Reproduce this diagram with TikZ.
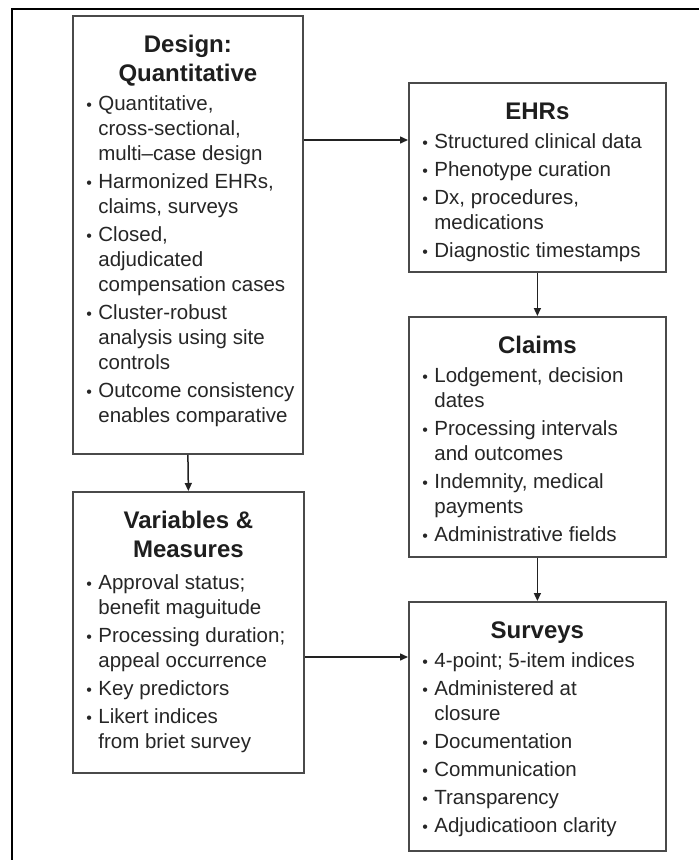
\documentclass[tikz,border=0pt]{standalone}
\usepackage{fontspec}
\setmainfont{Liberation Sans}
\usetikzlibrary{arrows.meta}

\definecolor{ink}{HTML}{262626}
\definecolor{titleink}{HTML}{1E1E1E}
\definecolor{boxline}{HTML}{4A4A4A}
\definecolor{wire}{HTML}{222222}

% small bullet in front of each entry
\newcommand{\bul}{\makebox[12pt][l]{\raisebox{0.6pt}{\fontsize{16}{16}\selectfont •}}}
% one bulleted entry; lines inside are separated by \\
\newcommand{\entry}[1]{\par\hangindent=12pt\hangafter=1\noindent\bul#1}
% panel body: [extra gap]{width}{height}{title}{entries}
\newcommand{\panel}[5][1pt]{%
  \parbox[c][#3][t]{#2}{%
    \vspace*{17pt}%
    {\centering\color{titleink}\fontsize{24}{29}\selectfont\bfseries
     \rule{0pt}{20pt}#4\par}%
    \vspace{#1}%
    \parskip=3pt\parindent=0pt\leftskip=13.5pt\rightskip=0pt plus 1fil
    \parfillskip=0pt plus 1fil\let\\\newline
    \color{ink}\fontsize{20.5}{25}\selectfont
    #5\par}}

\tikzset{
  panelbox/.style={draw=boxline, line width=1.8pt, fill=white,
    inner sep=0pt, anchor=north west},
  flow/.style={draw=wire, line width=1.5pt,
    -{Triangle[length=8pt,width=7pt]}},
  frameline/.style={draw=black, line width=2.6pt}
}

\begin{document}
\begin{tikzpicture}[x=1pt,y=-1pt]
  \useasboundingbox (0,0) rectangle (699,860);

  % open frame along the top and left edges
  \draw[frameline] (12,861) -- (12,9) -- (700,9);

  % left column
  \node[panelbox] (design) at (72,15) {\panel{230pt}{438pt}{Design:\\Quantitative}{%
    \entry{Quantitative,\\cross-sectional,\\multi–case design}
    \entry{Harmonized EHRs,\\claims, surveys}
    \entry{Closed,\\adjudicated\\compensation cases}
    \entry{Cluster-robust\\analysis using site\\controls}
    \entry{Outcome consistency\\enables comparative}}};

  \node[panelbox] (vars) at (72,491) {\panel[4pt]{231pt}{281pt}{Variables \&\\Measures}{%
    \entry{Approval status;\\benefit maguitude}
    \entry{Processing duration;\\appeal occurrence}
    \entry{Key predictors}
    \entry{Likert indices\\from briet survey}}};

  % right column
  \node[panelbox] (ehrs) at (408,82) {\panel{257pt}{189pt}{EHRs}{%
    \entry{Structured clinical data}
    \entry{Phenotype curation}
    \entry{Dx, procedures,\\medications}
    \entry{Diagnostic timestamps}}};

  \node[panelbox] (claims) at (408,316) {\panel{257pt}{240pt}{Claims}{%
    \entry{Lodgement, decision\\dates}
    \entry{Processing intervals\\and outcomes}
    \entry{Indemnity, medical\\payments}
    \entry{Administrative fields}}};

  \node[panelbox] (surveys) at (408,601) {\panel{257pt}{249pt}{Surveys}{%
    \entry{4-point; 5-item indices}
    \entry{Administered at\\closure}
    \entry{Documentation}
    \entry{Communication}
    \entry{Transparency}
    \entry{Adjudicatioon clarity}}};

  % heights of the two horizontal links
  \coordinate (upperlink) at (0,140);
  \coordinate (lowerlink) at (0,657);

  \draw[flow] (design.east |- upperlink) -- (ehrs.west |- upperlink);
  \draw[flow] (ehrs.south) -- (claims.north);
  \draw[flow] (claims.south) -- (surveys.north);
  \draw[flow] (design.south) -- (vars.north);
  \draw[flow] (vars.east |- lowerlink) -- (surveys.west |- lowerlink);
\end{tikzpicture}
\end{document}
